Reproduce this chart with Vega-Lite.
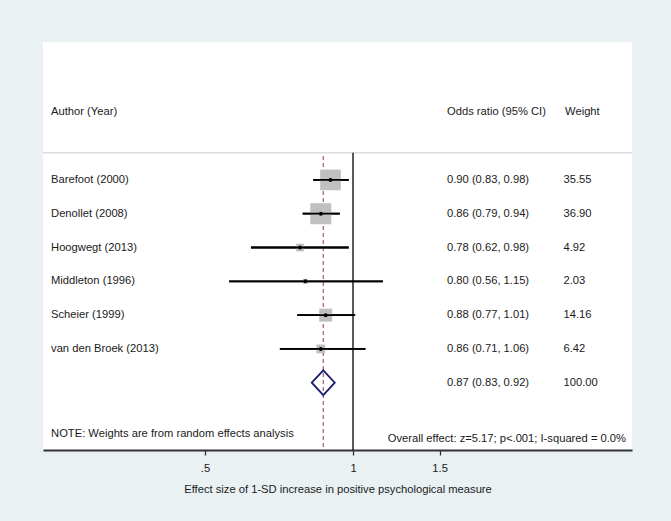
{
  "$schema": "https://vega.github.io/schema/vega-lite/v6.json",
  "width": 589,
  "height": 408,
  "autosize": {"type": "none"},
  "padding": {"left": 43, "top": 42, "right": 39, "bottom": 71},
  "background": "#e9f1f3",
  "config": {
    "view": {"stroke": null, "fill": "white"},
    "text": {"font": "Liberation Sans", "fontSize": 11.2, "color": "#1a1a1a", "baseline": "middle", "align": "left"},
    "axisX": {
      "grid": false,
      "domainColor": "#333333",
      "domainWidth": 2,
      "tickColor": "#333333",
      "tickWidth": 1.3,
      "tickSize": 5,
      "labelFont": "Liberation Sans",
      "labelFontSize": 11.2,
      "labelColor": "#1a1a1a",
      "labelPadding": 7,
      "labelFlush": false,
      "labelOverlap": false,
      "titleFont": "Liberation Sans",
      "titleFontSize": 11.2,
      "titleFontWeight": "normal",
      "titleColor": "#1a1a1a",
      "titlePadding": 10
    }
  },
  "datasets": {
    "studies": [
      {"study": "Barefoot (2000)", "row": 1, "or": 0.90, "lo": 0.83, "hi": 0.98, "weight": 35.55, "ci": "0.90 (0.83, 0.98)", "w": "35.55"},
      {"study": "Denollet (2008)", "row": 2, "or": 0.86, "lo": 0.79, "hi": 0.94, "weight": 36.90, "ci": "0.86 (0.79, 0.94)", "w": "36.90"},
      {"study": "Hoogwegt (2013)", "row": 3, "or": 0.78, "lo": 0.62, "hi": 0.98, "weight": 4.92, "ci": "0.78 (0.62, 0.98)", "w": "4.92"},
      {"study": "Middleton (1996)", "row": 4, "or": 0.80, "lo": 0.56, "hi": 1.15, "weight": 2.03, "ci": "0.80 (0.56, 1.15)", "w": "2.03"},
      {"study": "Scheier (1999)", "row": 5, "or": 0.88, "lo": 0.77, "hi": 1.01, "weight": 14.16, "ci": "0.88 (0.77, 1.01)", "w": "14.16"},
      {"study": "van den Broek (2013)", "row": 6, "or": 0.86, "lo": 0.71, "hi": 1.06, "weight": 6.42, "ci": "0.86 (0.71, 1.06)", "w": "6.42"}
    ],
    "overall": [
      {"row": 7, "or": 0.87, "lo": 0.83, "hi": 0.92, "weight": 100, "ci": "0.87 (0.83, 0.92)", "w": "100.00"}
    ]
  },
  "layer": [
    {
      "data": {"name": "studies"},
      "mark": {"type": "rule", "color": "#000000", "strokeWidth": 1.8},
      "encoding": {
        "x": {
          "field": "lo",
          "type": "quantitative",
          "scale": {"type": "log", "domain": [0.2341, 3.694], "nice": false},
          "axis": {
            "title": "Effect size of 1-SD increase in positive psychological measure",
            "values": [0.5, 1, 1.5],
            "labelExpr": "datum.value == 0.5 ? '.5' : (datum.value == 1 ? '1' : '1.5')"
          }
        },
        "x2": {"field": "hi"},
        "y": {"field": "row", "type": "quantitative", "scale": {"domain": [-3.08, 8.99], "reverse": true, "nice": false, "zero": false}, "axis": null}
      }
    },
    {
      "data": {"values": [{"a": 1}]},
      "mark": {"type": "rule", "color": "#dcdcdc", "strokeWidth": 1.5},
      "encoding": {
        "y": {"datum": 0.2, "type": "quantitative"}
      }
    },
    {
      "data": {"values": [{"a": 1}]},
      "mark": {"type": "rule", "color": "#000000", "strokeWidth": 1.3},
      "encoding": {
        "x": {"datum": 1, "type": "quantitative"},
        "y": {"datum": 0.2, "type": "quantitative"},
        "y2": {"datum": 8.99}
      }
    },
    {
      "data": {"name": "overall"},
      "mark": {"type": "rule", "color": "#a0587a", "strokeWidth": 1.2, "strokeDash": [4, 3]},
      "encoding": {
        "x": {"field": "or", "type": "quantitative"},
        "y": {"datum": 0.29, "type": "quantitative"},
        "y2": {"datum": 8.99}
      }
    },
    {
      "data": {"name": "studies"},
      "mark": {"type": "point", "shape": "square", "filled": true, "color": "#c0c0c0", "opacity": 1},
      "encoding": {
        "x": {"field": "or", "type": "quantitative"},
        "y": {"field": "row", "type": "quantitative"},
        "size": {"field": "weight", "type": "quantitative", "scale": {"type": "linear", "domain": [0, 100], "range": [0, 1200], "zero": true}, "legend": null}
      }
    },
    {
      "data": {"name": "studies"},
      "mark": {"type": "rule", "color": "#000000", "strokeWidth": 1.8},
      "encoding": {
        "x": {"field": "lo", "type": "quantitative"},
        "x2": {"field": "hi"},
        "y": {"field": "row", "type": "quantitative"}
      }
    },
    {
      "data": {"name": "studies"},
      "mark": {"type": "point", "shape": "circle", "filled": true, "color": "#000000", "size": 16, "opacity": 1},
      "encoding": {
        "x": {"field": "or", "type": "quantitative"},
        "y": {"field": "row", "type": "quantitative"}
      }
    },
    {
      "data": {"name": "overall"},
      "mark": {"type": "point", "shape": "M-1,0L0,-1.08L1,0L0,1.08Z", "filled": false, "color": "#1e1e6e", "strokeWidth": 1.8, "size": 529, "opacity": 1},
      "encoding": {
        "x": {"field": "or", "type": "quantitative"},
        "y": {"field": "row", "type": "quantitative"}
      }
    },
    {
      "data": {"name": "studies"},
      "mark": {"type": "text"},
      "encoding": {
        "x": {"datum": 0.2431, "type": "quantitative"},
        "y": {"field": "row", "type": "quantitative"},
        "text": {"field": "study"}
      }
    },
    {
      "data": {"name": "studies"},
      "mark": {"type": "text"},
      "encoding": {
        "x": {"datum": 1.553, "type": "quantitative"},
        "y": {"field": "row", "type": "quantitative"},
        "text": {"field": "ci"}
      }
    },
    {
      "data": {"name": "studies"},
      "mark": {"type": "text"},
      "encoding": {
        "x": {"datum": 2.68, "type": "quantitative"},
        "y": {"field": "row", "type": "quantitative"},
        "text": {"field": "w"}
      }
    },
    {
      "data": {"name": "overall"},
      "mark": {"type": "text"},
      "encoding": {
        "x": {"datum": 1.553, "type": "quantitative"},
        "y": {"field": "row", "type": "quantitative"},
        "text": {"field": "ci"}
      }
    },
    {
      "data": {"name": "overall"},
      "mark": {"type": "text"},
      "encoding": {
        "x": {"datum": 2.68, "type": "quantitative"},
        "y": {"field": "row", "type": "quantitative"},
        "text": {"field": "w"}
      }
    },
    {
      "data": {"values": [{"label": "Author (Year)"}]},
      "mark": {"type": "text"},
      "encoding": {
        "x": {"datum": 0.2431, "type": "quantitative"},
        "y": {"datum": -1, "type": "quantitative"},
        "text": {"field": "label"}
      }
    },
    {
      "data": {"values": [{"label": "Odds ratio (95% CI)"}]},
      "mark": {"type": "text"},
      "encoding": {
        "x": {"datum": 1.553, "type": "quantitative"},
        "y": {"datum": -1, "type": "quantitative"},
        "text": {"field": "label"}
      }
    },
    {
      "data": {"values": [{"label": "Weight"}]},
      "mark": {"type": "text"},
      "encoding": {
        "x": {"datum": 2.7, "type": "quantitative"},
        "y": {"datum": -1, "type": "quantitative"},
        "text": {"field": "label"}
      }
    },
    {
      "data": {"values": [{"label": "NOTE: Weights are from random effects analysis"}]},
      "mark": {"type": "text"},
      "encoding": {
        "x": {"datum": 0.2431, "type": "quantitative"},
        "y": {"datum": 8.515, "type": "quantitative"},
        "text": {"field": "label"}
      }
    },
    {
      "data": {"values": [{"label": "Overall effect: z=5.17; p<.001; I-squared = 0.0%"}]},
      "mark": {"type": "text", "align": "right"},
      "encoding": {
        "x": {"datum": 3.592, "type": "quantitative"},
        "y": {"datum": 8.66, "type": "quantitative"},
        "text": {"field": "label"}
      }
    }
  ]
}
